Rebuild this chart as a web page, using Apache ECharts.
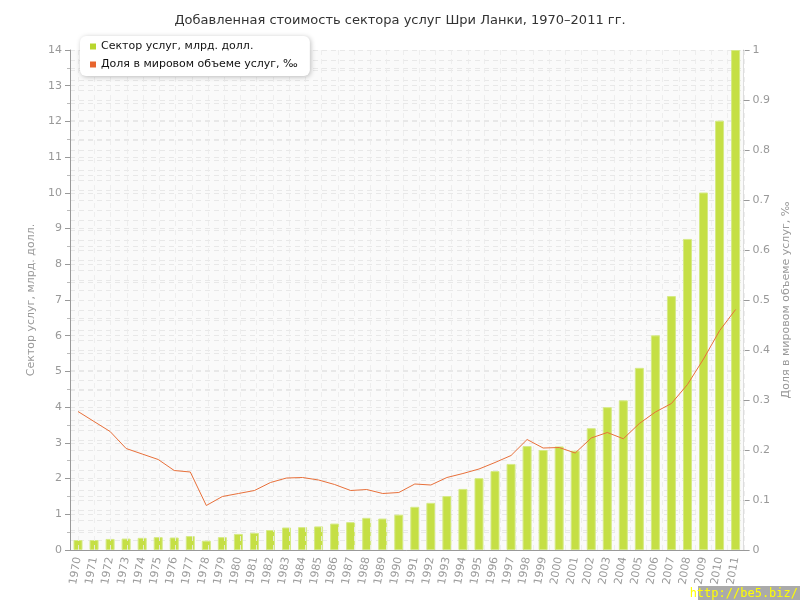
<!DOCTYPE html>
<html>
<head>
<meta charset="utf-8">
<script src="https://cdn.jsdelivr.net/npm/echarts@6/dist/echarts.min.js"></script>
<style>html,body{margin:0;padding:0;background:#fff}#c{width:800px;height:600px}</style>
</head>
<body>
<div id="c"></div>
<script>
const years = ['1970','1971','1972','1973','1974','1975','1976','1977','1978','1979','1980','1981','1982','1983','1984','1985','1986','1987','1988','1989','1990','1991','1992','1993','1994','1995','1996','1997','1998','1999','2000','2001','2002','2003','2004','2005','2006','2007','2008','2009','2010','2011'];
const services = [0.28,0.28,0.31,0.32,0.34,0.36,0.35,0.39,0.26,0.36,0.45,0.48,0.56,0.63,0.64,0.66,0.74,0.78,0.90,0.88,0.99,1.21,1.32,1.51,1.71,2.01,2.21,2.41,2.91,2.80,2.90,2.78,3.41,4.00,4.19,5.10,6.01,7.11,8.71,10.01,12.02,14.0];
const share = [0.277,0.257,0.237,0.203,0.192,0.181,0.159,0.156,0.089,0.107,0.113,0.119,0.135,0.144,0.145,0.140,0.131,0.119,0.121,0.113,0.115,0.132,0.130,0.145,0.153,0.162,0.175,0.189,0.221,0.204,0.205,0.194,0.224,0.235,0.2225,0.253,0.276,0.293,0.331,0.382,0.4385,0.481];
const titleText = 'Добавленная стоимость сектора услуг Шри Ланки, 1970–2011 гг.';
const seriesNames = ['Сектор услуг, млрд. долл.', 'Доля в мировом объеме услуг, ‰'];

const font = 'DejaVu Sans';
const chart = echarts.init(document.getElementById('c'));
const gridLine = {show: true, lineStyle: {color: '#e8e8e8', type: [5, 4], width: 1}};
chart.setOption({
  animation: false,
  backgroundColor: '#fff',
  textStyle: {fontFamily: font},
  title: {text: titleText, left: 'center', top: 9, textStyle: {fontFamily: font, fontSize: 13, fontWeight: 'normal', color: '#333'}},
  legend: {
    orient: 'vertical', left: 80, top: 36, itemWidth: 6, itemHeight: 6, itemGap: 7, z: 20,
    padding: [5, 12, 6, 10], backgroundColor: '#fff', borderRadius: 6,
    shadowBlur: 5, shadowColor: 'rgba(0,0,0,0.25)', shadowOffsetX: 1, shadowOffsetY: 1,
    textStyle: {fontFamily: font, fontSize: 11, color: '#111'},
    itemStyle: {borderWidth: 0, borderColor: 'transparent'},
    lineStyle: {width: 0, opacity: 0},
    data: [
      {name: seriesNames[0], icon: 'rect', itemStyle: {color: '#b8d62e', borderWidth: 0, borderColor: 'transparent'}},
      {name: seriesNames[1], icon: 'rect', itemStyle: {color: '#e8652e', borderWidth: 0, borderColor: 'transparent'}}
    ]
  },
  grid: [
    {left: 70, right: 48, top: 50, bottom: 50, show: true, backgroundColor: '#fafafa', borderWidth: 0},
    {left: 70 + 682/84, right: 48 + 682/84, top: 50, bottom: 50, show: false}
  ],
  xAxis: [
    {type: 'category', data: years, gridIndex: 0,
     axisLine: {lineStyle: {color: '#999'}},
     axisTick: {alignWithLabel: true, length: 4, lineStyle: {color: '#999'}},
     axisLabel: {rotate: 80, color: '#999', fontSize: 11, fontFamily: font, interval: 0, margin: 7},
     splitLine: {show: false}},
    {type: 'category', data: years, gridIndex: 1, boundaryGap: false, z: 5,
     axisLine: {show: false}, axisTick: {show: false}, axisLabel: {show: false},
     splitLine: {show: true, interval: 0, lineStyle: {color: 'rgba(235,235,235,0.85)', type: [5, 4], width: 1}}}
  ],
  yAxis: [
    {type: 'value', gridIndex: 0, min: 0, max: 14, interval: 1, position: 'left',
     name: seriesNames[0], nameLocation: 'middle', nameGap: 27,
     nameTextStyle: {color: '#999', fontSize: 11, fontFamily: font},
     axisLine: {show: true, lineStyle: {color: '#999'}},
     axisTick: {show: true, length: 5, lineStyle: {color: '#999'}},
     minorTick: {show: true, splitNumber: 2, length: 3, lineStyle: {color: '#bbb'}},
     axisLabel: {color: '#999', fontSize: 11, fontFamily: font, margin: 8},
     splitLine: gridLine, minorSplitLine: gridLine},
    {type: 'value', gridIndex: 0, min: 0, max: 1, interval: 0.1, position: 'right',
     name: seriesNames[1], nameLocation: 'middle', nameGap: 31,
     nameTextStyle: {color: '#999', fontSize: 11, fontFamily: font},
     axisLine: {show: true, lineStyle: {color: '#ddd'}},
     axisTick: {show: true, length: 6, lineStyle: {color: '#999'}},
     minorTick: {show: false},
     axisLabel: {color: '#999', fontSize: 11, fontFamily: font, margin: 9},
     splitLine: gridLine, minorSplitLine: gridLine},
    {type: 'value', gridIndex: 1, show: false, min: 0, max: 1}
  ],
  series: [
    {name: seriesNames[0], type: 'bar', xAxisIndex: 0, yAxisIndex: 0, data: services, barWidth: 9,
     itemStyle: {color: '#c5df45', borderColor: '#d5ea85', borderWidth: 1}},
    {name: seriesNames[1], type: 'line', xAxisIndex: 0, yAxisIndex: 1, data: share, z: 6,
     showSymbol: false, symbol: 'none', legendIcon: 'rect', lineStyle: {color: '#e8703a', width: 1}, itemStyle: {color: '#e8652e'}}
  ],
  graphic: [
    {type: 'rect', right: 0, bottom: 0, shape: {width: 102, height: 14}, style: {fill: '#aaa'}, z: 100},
    {type: 'text', right: 2, bottom: 0, z: 101, style: {text: 'http://be5.biz/', fill: '#ffff00', font: '12px "DejaVu Sans Mono"'}}
  ]
});
</script>
</body>
</html>
